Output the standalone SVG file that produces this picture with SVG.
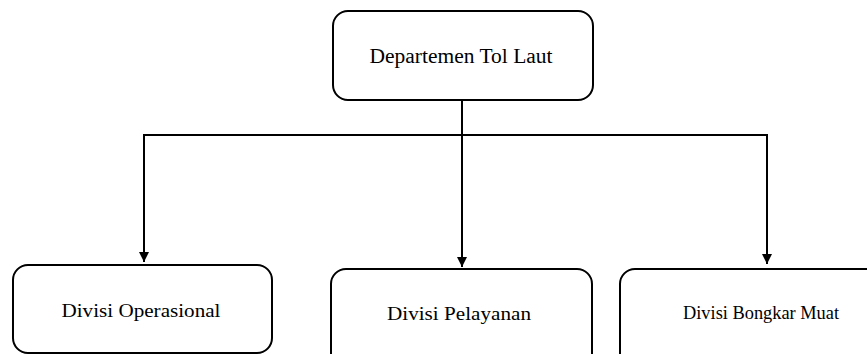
<svg xmlns="http://www.w3.org/2000/svg" width="867" height="354" viewBox="0 0 867 354">
  <defs>
    <style>
      .box { fill: #ffffff; stroke: #000000; stroke-width: 2; }
      .lbl { font-family: "Liberation Serif", "Times New Roman", serif; font-size: 18.5px; fill: #000000; text-anchor: middle; }
      .top { font-size: 20px; }
      .conn { fill: none; stroke: #000000; stroke-width: 2; }
    </style>
    <marker id="arrow" viewBox="0 0 10 10" refX="10" refY="5" markerWidth="10" markerHeight="10" markerUnits="userSpaceOnUse" orient="auto">
      <path d="M0,0 L10,5 L0,10 Z" fill="#000000"/>
    </marker>
  </defs>
  <rect width="867" height="354" fill="#ffffff"/>
  <g id="connectors">
    <line class="conn" x1="462" y1="100" x2="462" y2="267" marker-end="url(#arrow)"/>
    <polyline class="conn" points="144,135 767,135 767,264" marker-end="url(#arrow)"/>
    <line class="conn" x1="144" y1="134" x2="144" y2="262" marker-end="url(#arrow)"/>
  </g>
  <g id="node-departemen">
    <rect class="box" x="333" y="11" width="260" height="89" rx="15" ry="15"/>
    <text class="lbl top" x="461" y="63" textLength="183" lengthAdjust="spacingAndGlyphs">Departemen  Tol Laut</text>
  </g>
  <g id="node-operasional">
    <rect class="box" x="13" y="265" width="259" height="88" rx="15" ry="15"/>
    <text class="lbl" x="141" y="317" textLength="159" lengthAdjust="spacingAndGlyphs">Divisi Operasional</text>
  </g>
  <g id="node-pelayanan">
    <rect class="box" x="331" y="269" width="261" height="100" rx="15" ry="15"/>
    <text class="lbl" x="459" y="320" textLength="144" lengthAdjust="spacingAndGlyphs">Divisi Pelayanan</text>
  </g>
  <g id="node-bongkar">
    <rect class="box" x="620" y="269" width="262" height="100" rx="15" ry="15"/>
    <text class="lbl" x="761" y="319" textLength="156" lengthAdjust="spacingAndGlyphs">Divisi Bongkar  Muat</text>
  </g>
</svg>
